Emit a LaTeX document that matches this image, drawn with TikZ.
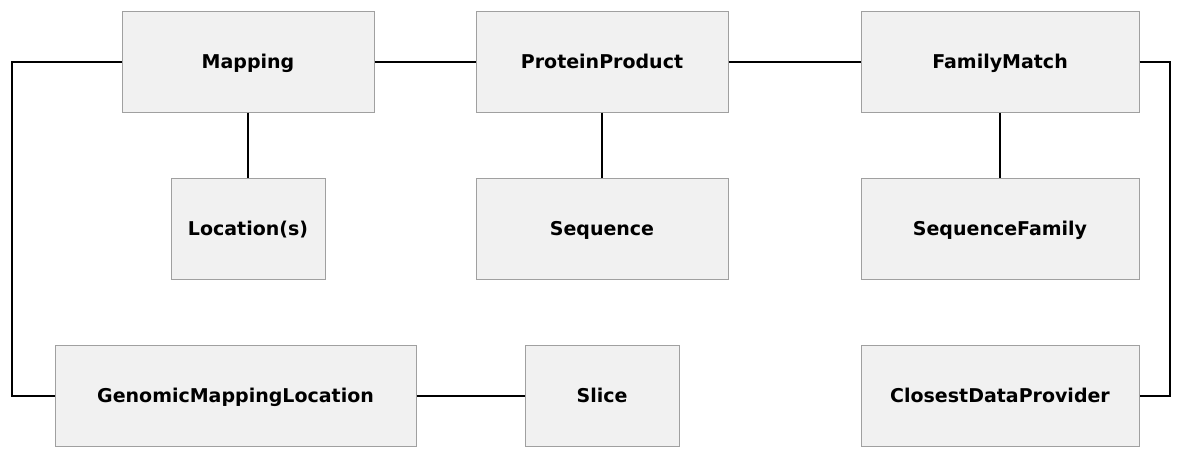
\documentclass[tikz,border=0pt]{standalone}
\usepackage{fontspec}
\setmainfont{DejaVu Sans}
\usepackage{tikz}
\usetikzlibrary{calc}

\definecolor{boxfill}{HTML}{F1F1F1}
\definecolor{boxline}{HTML}{A0A0A0}

\tikzset{
    entity/.style={draw=boxline, fill=boxfill, line width=1pt,
        minimum height=101pt, inner sep=0pt,
        text height=13.9pt, text depth=0pt,
        font=\bfseries\fontsize{19}{23}\selectfont},
    link/.style={line width=2pt, black}
}

\begin{document}
\begin{tikzpicture}[x=1pt, y=-1pt]

\useasboundingbox (0,0) rectangle (1181,458);

% Top row
\node[entity, minimum width=252pt] (mapping) at (248,61.5) {Mapping};
\node[entity, minimum width=252pt] (protein) at (602,61.5) {ProteinProduct};
\node[entity, minimum width=278pt] (family) at (1000,61.5) {FamilyMatch};

% Middle row
\node[entity, minimum width=154pt] (location) at (248,228.5) {Location(s)};
\node[entity, minimum width=252pt] (sequence) at (602,228.5) {Sequence};
\node[entity, minimum width=278pt] (seqfamily) at (1000,228.5) {SequenceFamily};

% Bottom row
\node[entity, minimum width=361pt] (genomic) at (235.5,395.5) {GenomicMappingLocation};
\node[entity, minimum width=154pt] (slice) at (602,395.5) {Slice};
\node[entity, minimum width=278pt] (provider) at (1000,395.5) {ClosestDataProvider};

% Links
\draw[link] (mapping) -- (protein);
\draw[link] (protein) -- (family);
\draw[link] (mapping) -- (location);
\draw[link] (protein) -- (sequence);
\draw[link] (family) -- (seqfamily);
\draw[link] (genomic) -- (slice);
\draw[link] (mapping.west) -- ++(-110,0) |- (genomic.west);
\draw[link] (family.east) -- ++(30,0) |- (provider.east);

\end{tikzpicture}
\end{document}
